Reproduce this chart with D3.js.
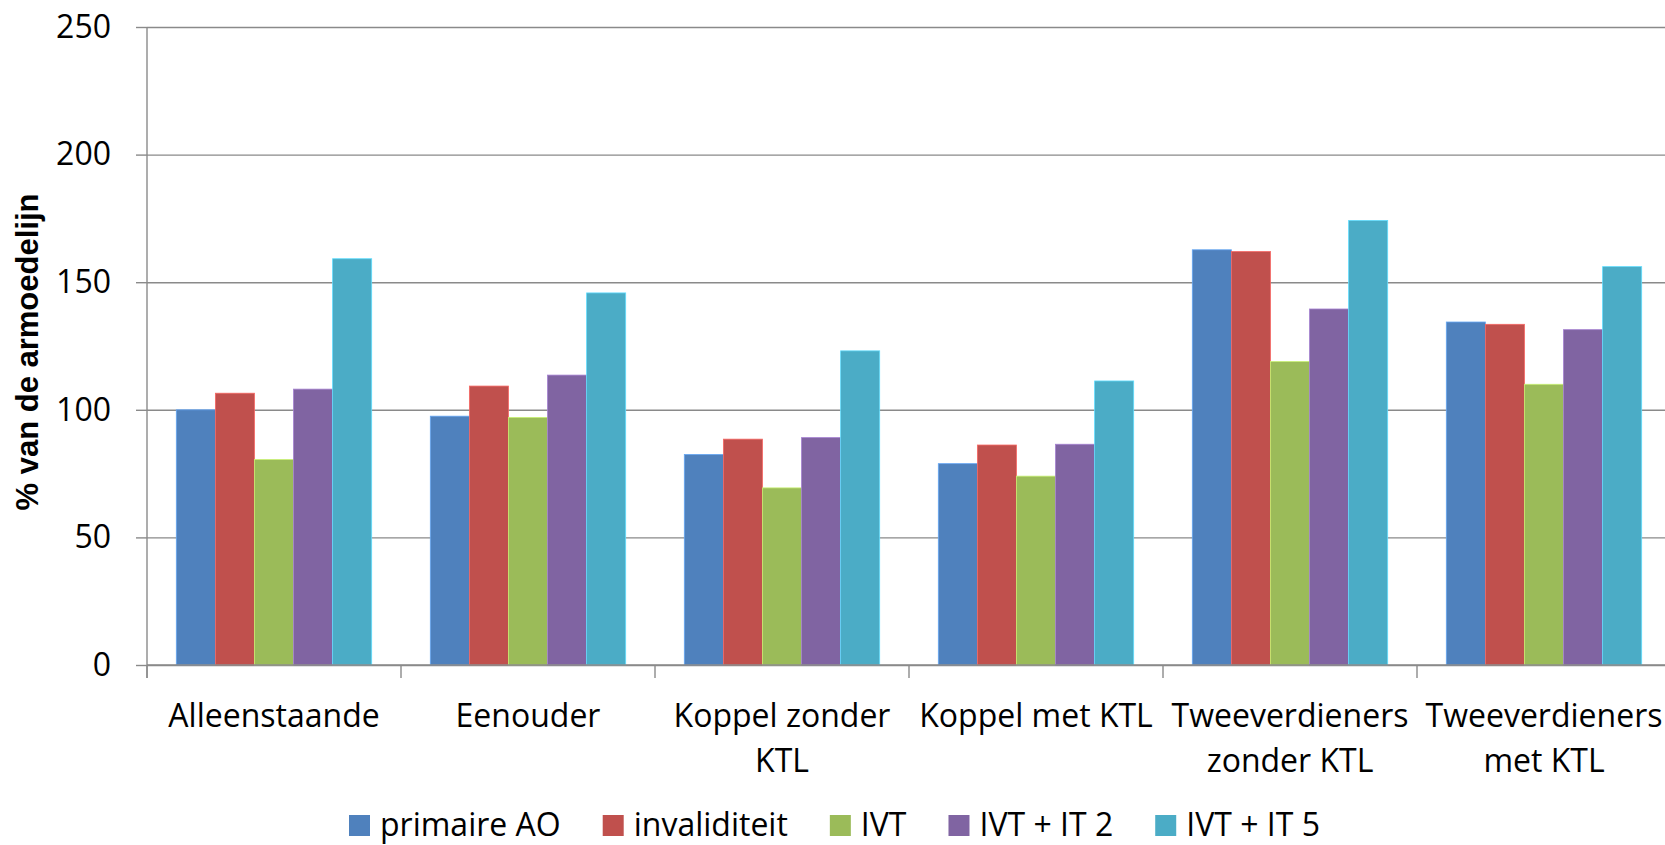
<!DOCTYPE html>
<html>
<head>
<meta charset="utf-8">
<script src="https://cdn.jsdelivr.net/npm/d3@7"></script>
<style>
  body { margin: 0; background: #fff; }
  text { font-family: "Open Sans", "Noto Sans", sans-serif; fill: #000; }
</style>
</head>
<body>
<div class="armoede-chart-container"></div>
<script>
// % van de armoedelijn per gezinstype
var categorieen = ["Alleenstaande", "Eenouder", "Koppel zonder KTL", "Koppel met KTL", "Tweeverdieners zonder KTL", "Tweeverdieners met KTL"];
var reeksen = ["primaire AO", "invaliditeit", "IVT", "IVT + IT 2", "IVT + IT 5"];
var kleuren = ["#4F81BD", "#C0504D", "#9BBB59", "#8064A2", "#4BACC6"];

var primaireAO   = [100.0, 97.5, 82.5, 78.9, 162.7, 134.4];
var invaliditeit = [106.5, 109.3, 88.5, 86.2, 162.0, 133.5];
var ivt          = [80.5, 97.0, 69.4, 74.0, 118.9, 110.0];
var ivtIt2       = [108.1, 113.6, 89.1, 86.5, 139.5, 131.4];
var ivtIt5       = [159.2, 145.8, 123.1, 111.3, 174.2, 156.1];

var yTicks = [0, 50, 100, 150, 200, 250];

var waarden = [primaireAO, invaliditeit, ivt, ivtIt2, ivtIt5];

var margin = { top: 27, left: 147 },
    widthA = 1524,
    heightA = 638;

var svg = d3.select('.armoede-chart-container')
    .append('svg')
    .attr("width", 1665)
    .attr("height", 845);

var chart = svg.append("g")
    .attr("transform", "translate(" + margin.left + "," + margin.top + ")");

var x0 = d3.scaleBand()
    .domain(categorieen)
    .range([0, widthA])
    .padding(0);

var x1 = d3.scaleBand()
    .domain(reeksen)
    .range([0, x0.bandwidth()])
    .paddingInner(0)
    .paddingOuter(0.75);

var y = d3.scaleLinear()
    .domain([0, 250])
    .range([heightA, 0]);

// rasterlijnen
chart.append("g")
    .attr("class", "grid")
    .call(d3.axisLeft(y).tickValues(yTicks).tickSize(-widthA).tickFormat(""))
    .call(function(g) { g.select(".domain").remove(); })
    .selectAll("line")
    .attr("stroke", "#8a8a8a")
    .attr("stroke-width", 1.4);

// y-as
var yAxis = chart.append("g")
    .call(d3.axisLeft(y).tickValues(yTicks).tickSize(11).tickPadding(25).tickSizeOuter(0));

yAxis.select(".domain").remove();
yAxis.selectAll("line").attr("stroke", "#8a8a8a").attr("stroke-width", 1.4);
yAxis.selectAll("text")
    .style("font-size", "32px")
    .style("font-family", "'Open Sans', sans-serif")
    .attr("fill", "#000");

chart.append("line")
    .attr("x1", 0).attr("x2", 0)
    .attr("y1", y(250)).attr("y2", heightA + 13)
    .attr("stroke", "#8a8a8a")
    .attr("stroke-width", 1.4);

// staven
var groepen = chart.selectAll(".groep")
    .data(categorieen)
    .enter().append("g")
    .attr("class", "groep")
    .attr("transform", function(d) { return "translate(" + x0(d) + ",0)"; });

groepen.selectAll("rect")
    .data(function(d, i) {
        return reeksen.map(function(r, j) { return { reeks: r, waarde: waarden[j][i], kleur: kleuren[j] }; });
    })
    .enter().append("rect")
    .attr("x", function(d) { return x1(d.reeks); })
    .attr("y", function(d) { return y(d.waarde); })
    .attr("width", x1.bandwidth())
    .attr("height", function(d) { return heightA - y(d.waarde); })
    .attr("fill", function(d) { return d.kleur; })
    .attr("stroke", function(d) { return d3.color(d.kleur).brighter(0.7); })
    .attr("stroke-width", 0.8);

// x-as
chart.append("line")
    .attr("x1", 0).attr("x2", widthA)
    .attr("y1", heightA).attr("y2", heightA)
    .attr("stroke", "#8a8a8a")
    .attr("stroke-width", 1.4);

var grenzen = categorieen.map(function(c) { return x0(c); }).concat([x0.range()[1]]);

chart.selectAll(".xtick")
    .data(grenzen)
    .enter().append("line")
    .attr("class", "xtick")
    .attr("x1", function(d) { return d; })
    .attr("x2", function(d) { return d; })
    .attr("y1", heightA)
    .attr("y2", heightA + 13)
    .attr("stroke", "#8a8a8a")
    .attr("stroke-width", 1.4);

var labels = chart.selectAll(".xlabel")
    .data(categorieen)
    .enter().append("text")
    .attr("class", "xlabel")
    .attr("text-anchor", "middle")
    .style("font-size", "32px")
    .attr("x", function(d) { return x0(d) + x0.bandwidth() / 2; })
    .attr("y", heightA + 62)
    .text(function(d) { return d; });

labels.each(function(d) {
    var text = d3.select(this),
        words = d.split(" "),
        xpos = text.attr("x"),
        line = [],
        lines = [];
    text.text(null);
    var probe = text.append("tspan");
    words.forEach(function(w) {
        line.push(w);
        probe.text(line.join(" "));
        if (probe.node().getComputedTextLength() > x0.bandwidth() - 4 && line.length > 1) {
            line.pop();
            lines.push(line.join(" "));
            line = [w];
        }
    });
    lines.push(line.join(" "));
    probe.remove();
    lines.forEach(function(l, i) {
        text.append("tspan")
            .attr("x", xpos)
            .attr("dy", i === 0 ? 0 : 45)
            .text(l);
    });
});

// y-as titel
svg.append("text")
    .attr("transform", "translate(38," + (margin.top + heightA / 2 + 6) + ") rotate(-90)")
    .attr("text-anchor", "middle")
    .style("font-family", "'Liberation Sans', Arial, sans-serif")
    .style("font-size", "31px")
    .style("font-weight", "bold")
    .text("% van de armoedelijn");

// legende
var legende = svg.append("g")
    .attr("transform", "translate(349,0)");

var lx = 0;
reeksen.forEach(function(r, i) {
    legende.append("rect")
        .attr("x", lx)
        .attr("y", 815)
        .attr("width", 21)
        .attr("height", 21)
        .attr("fill", kleuren[i]);
    var t = legende.append("text")
        .attr("x", lx + 31)
        .attr("y", 836)
        .style("font-size", "32px")
        .text(r);
    lx += 31 + t.node().getComputedTextLength() + 42;
});
</script>
</body>
</html>
